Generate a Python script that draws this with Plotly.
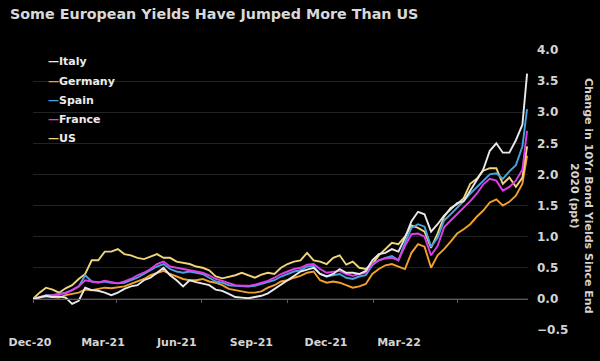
import pandas as pd
import plotly.graph_objects as go

# ---- data (change in 10Yr yields since end-2020, ppt), weekly readings ----
dates = list(pd.date_range("2020-12-31", periods=76, freq="7D")) + [pd.Timestamp("2022-06-14")]

italy = [0.00, 0.03, 0.05, 0.03, 0.04, 0.02, -0.08, -0.03, 0.18, 0.14, 0.13, 0.10, 0.06, 0.10,
         0.16, 0.20, 0.22, 0.30, 0.34, 0.42, 0.50, 0.38, 0.30, 0.20, 0.30, 0.27, 0.24, 0.22,
         0.15, 0.13, 0.08, 0.03, 0.02, 0.01, 0.03, 0.05, 0.09, 0.16, 0.24, 0.30, 0.38, 0.44,
         0.47, 0.50, 0.40, 0.36, 0.40, 0.48, 0.42, 0.42, 0.40, 0.45, 0.62, 0.72, 0.74, 0.80,
         0.76, 0.98, 1.25, 1.40, 1.36, 1.08, 1.20, 1.34, 1.44, 1.54, 1.57, 1.74, 1.90, 2.08,
         2.38, 2.50, 2.35, 2.35, 2.55, 2.80, 3.62]
germany = [0.00, 0.02, 0.04, 0.03, 0.02, 0.06, 0.08, 0.10, 0.15, 0.14, 0.16, 0.18, 0.17, 0.18,
           0.20, 0.24, 0.28, 0.32, 0.38, 0.42, 0.45, 0.40, 0.36, 0.32, 0.30, 0.30, 0.32, 0.28,
           0.26, 0.22, 0.16, 0.14, 0.12, 0.10, 0.10, 0.12, 0.18, 0.22, 0.28, 0.30, 0.34, 0.37,
           0.42, 0.44, 0.30, 0.26, 0.28, 0.26, 0.22, 0.18, 0.20, 0.24, 0.40, 0.48, 0.54, 0.56,
           0.52, 0.48, 0.74, 0.88, 0.84, 0.50, 0.70, 0.80, 0.92, 1.05, 1.12, 1.20, 1.32, 1.42,
           1.55, 1.60, 1.50, 1.56, 1.66, 1.85, 2.30]
spain = [0.00, 0.03, 0.06, 0.06, 0.08, 0.10, 0.14, 0.20, 0.38, 0.28, 0.27, 0.28, 0.26, 0.25,
         0.26, 0.30, 0.34, 0.40, 0.46, 0.52, 0.56, 0.48, 0.44, 0.42, 0.44, 0.42, 0.40, 0.34,
         0.28, 0.26, 0.22, 0.21, 0.20, 0.20, 0.21, 0.24, 0.26, 0.30, 0.36, 0.40, 0.44, 0.46,
         0.52, 0.53, 0.40, 0.36, 0.38, 0.40, 0.34, 0.32, 0.36, 0.38, 0.54, 0.62, 0.66, 0.69,
         0.62, 0.90, 1.14, 1.20, 1.16, 0.84, 0.98, 1.26, 1.36, 1.46, 1.57, 1.69, 1.79, 1.90,
         2.00, 2.02, 1.93, 2.05, 2.15, 2.45, 3.05]
france = [0.00, 0.03, 0.05, 0.06, 0.07, 0.09, 0.14, 0.20, 0.30, 0.28, 0.26, 0.29, 0.27, 0.25,
          0.28, 0.32, 0.38, 0.42, 0.48, 0.56, 0.60, 0.52, 0.50, 0.48, 0.46, 0.44, 0.42, 0.38,
          0.32, 0.29, 0.25, 0.22, 0.21, 0.21, 0.23, 0.26, 0.29, 0.34, 0.40, 0.44, 0.48, 0.50,
          0.55, 0.56, 0.48, 0.42, 0.44, 0.45, 0.40, 0.37, 0.40, 0.42, 0.56, 0.62, 0.65, 0.66,
          0.62, 0.85, 1.04, 1.05, 1.00, 0.70, 0.85, 1.15, 1.26, 1.36, 1.46, 1.57, 1.69, 1.84,
          1.93, 1.90, 1.74, 1.80, 1.90, 2.08, 2.70]
us = [0.00, 0.10, 0.18, 0.15, 0.10, 0.17, 0.22, 0.32, 0.40, 0.62, 0.62, 0.76, 0.76, 0.80,
      0.72, 0.70, 0.66, 0.64, 0.68, 0.72, 0.66, 0.66, 0.60, 0.58, 0.56, 0.52, 0.50, 0.46,
      0.36, 0.33, 0.35, 0.38, 0.42, 0.38, 0.34, 0.39, 0.42, 0.40, 0.50, 0.56, 0.60, 0.62,
      0.74, 0.62, 0.60, 0.56, 0.66, 0.70, 0.55, 0.60, 0.50, 0.48, 0.56, 0.70, 0.80, 0.90,
      0.88, 1.00, 1.18, 1.14, 1.08, 0.82, 1.05, 1.32, 1.46, 1.52, 1.62, 1.85, 1.93, 2.06,
      2.10, 2.10, 1.85, 1.95, 1.80, 1.95, 2.45]

series_names = ["Italy", "Germany", "Spain", "France", "US"]
series_values = [italy, germany, spain, france, us]
series_colors = ["#e9e9e9", "#f2a12a", "#47a3dc", "#e03ee6", "#efd67a"]
draw_order = ["Germany", "US", "Spain", "France", "Italy"]

tick_dates = ["2020-12-31", "2021-03-31", "2021-06-30", "2021-09-30", "2021-12-31", "2022-03-31"]
tick_labels = ["Dec-20", "Mar-21", "Jun-21", "Sep-21", "Dec-21", "Mar-22"]

title_text = "Some European Yields Have Jumped More Than US"
axis_title = "Change in 10Yr Bond Yields Since End<br>2020 (ppt)"

y_range = [-0.5, 4.0]

# ---- figure ----
W, H = 600, 361
ML, MR, MT, MB = 0, 72, 50, 31
plot_w = W - ML - MR
plot_h = H - MT - MB
txt = "#d4d4d4"
FONT = "DejaVu Sans"

fig = go.Figure()
lookup = dict(zip(series_names, zip(series_values, series_colors)))
for name in draw_order:
    vals, col = lookup[name]
    fig.add_trace(go.Scatter(x=dates, y=vals, mode="lines", name=name,
                             line=dict(color=col, width=1.9), showlegend=False,
                             xaxis="x", yaxis="y"))

# invisible carrier so the label-only axis (x2) gets drawn
fig.add_trace(go.Scatter(x=tick_dates, y=[0] * len(tick_dates), mode="lines",
                         opacity=0, line=dict(width=0), hoverinfo="skip",
                         showlegend=False, xaxis="x2", yaxis="y2"))

x_left_px = 33
zero_pos = (0 - y_range[0]) / (y_range[1] - y_range[0])

fig.update_layout(
    width=W, height=H,
    margin=dict(l=ML, r=MR, t=MT, b=MB),
    paper_bgcolor="black", plot_bgcolor="rgba(0,0,0,0)",
    font=dict(family=FONT, color=txt),
    title=dict(text=title_text, x=10 / W, xanchor="left", xref="container",
               y=1 - 14 / H, yanchor="middle", yref="container",
               font=dict(family=FONT, size=14.3, color="#d9d9d9", weight="bold")),
    xaxis=dict(type="date", domain=[x_left_px / plot_w, 1],
               range=["2020-12-31", "2022-06-15"],
               anchor="free", position=zero_pos,
               showgrid=False, zeroline=False,
               showline=True, linecolor="#5a5a5a", linewidth=1,
               ticks="outside", ticklen=3, tickcolor="#5a5a5a",
               tickvals=tick_dates, showticklabels=False),
    yaxis=dict(range=y_range, side="right", anchor="x", domain=[0, 1],
               dtick=0.5, tick0=0, tickformat=".1f",
               showgrid=True, gridcolor="#222222", gridwidth=1,
               zeroline=False, showline=False, ticks="",
               ticklabelstandoff=8,
               tickfont=dict(family=FONT, size=12, color=txt, weight="bold")),
    # label-only axis (labels in the original are spaced apart from the tick marks)
    xaxis2=dict(type="date", domain=[5.7 / plot_w, 423.3 / plot_w],
                range=["2020-12-01", "2022-04-30"], anchor="y2",
                showgrid=False, zeroline=False, showline=False, ticks="",
                tickvals=tick_dates, ticktext=tick_labels,
                ticklabelstandoff=4,
                tickfont=dict(family=FONT, size=11, color=txt, weight="bold")),
    yaxis2=dict(domain=[0, 1], anchor="x2", range=y_range,
                showgrid=False, zeroline=False, showline=False,
                showticklabels=False, ticks=""),
    showlegend=False,
)

annotations = [
    dict(text=axis_title, textangle=90, xref="paper", yref="paper",
         x=581 / plot_w, y=(plot_h - (196 - MT)) / plot_h, showarrow=False,
         xanchor="center", yanchor="middle", align="center",
         font=dict(family=FONT, size=11, color=txt, weight="bold")),
]
leg_x_px, leg_y0_px, leg_step = 46, 62, 19
for i, (name, col) in enumerate(zip(series_names, series_colors)):
    annotations.append(dict(
        text=f"<span style='color:{col}'>—</span>{name}",
        xref="paper", yref="paper",
        x=leg_x_px / plot_w, y=(plot_h - (leg_y0_px + i * leg_step - MT)) / plot_h,
        xanchor="left", yanchor="middle", showarrow=False,
        font=dict(family=FONT, size=11, color="#ececec", weight="bold")))
fig.update_layout(annotations=annotations)

fig.write_html("out.html", config={"displayModeBar": False},
               post_script="document.body.style.margin='0';")
